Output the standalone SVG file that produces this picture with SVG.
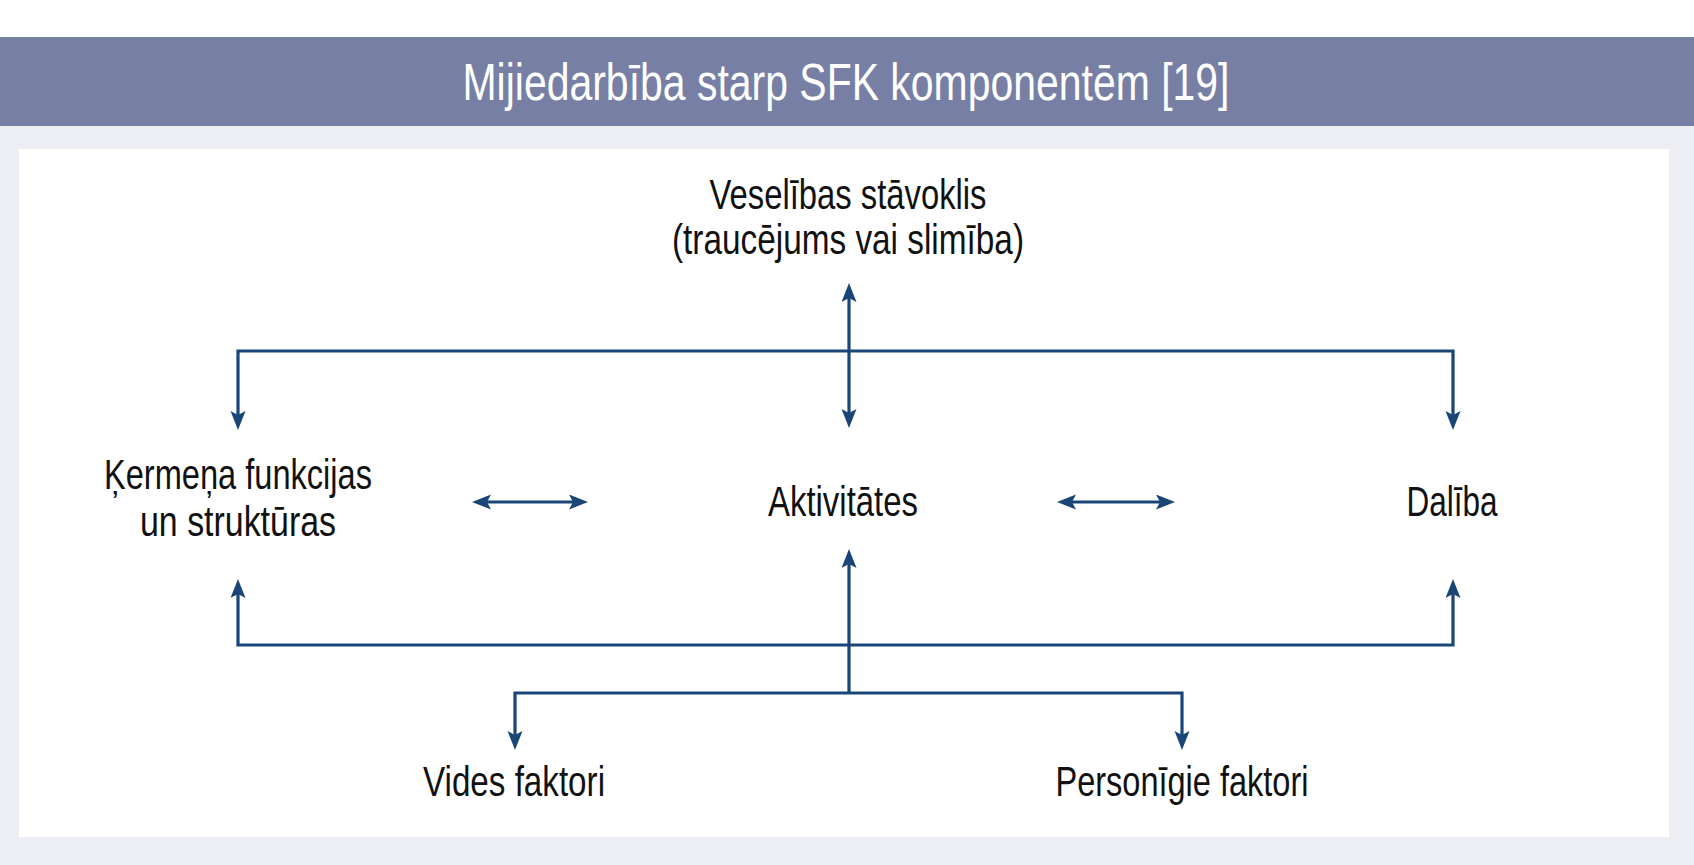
<svg xmlns="http://www.w3.org/2000/svg" width="1694" height="865" viewBox="0 0 1694 865">
  <style>
    .lbl { font-family: "Liberation Sans", Arial, sans-serif; font-size: 42px; fill: #111111; text-anchor: middle; }
    .title { font-family: "Liberation Sans", Arial, sans-serif; font-size: 52px; fill: #ffffff; text-anchor: middle; }
    .con { fill: none; stroke: #1a4577; stroke-width: 3.2; stroke-linejoin: miter; }
  </style>
  <defs>
    <marker id="ah" markerUnits="userSpaceOnUse" markerWidth="22" markerHeight="16" refX="10" refY="7.5" orient="auto-start-reverse">
      <path d="M0,0 L19,7.5 L0,15 L4,7.5 z" fill="#1a4577"/>
    </marker>
  </defs>

  <rect x="0" y="0" width="1694" height="865" fill="#ffffff"/>
  <rect x="0" y="126" width="1694" height="739" fill="#edeef4"/>
  <rect id="titlebar" x="0" y="37" width="1694" height="89" fill="#7780a4"/>
  <text class="title" x="846" y="100" textLength="767" lengthAdjust="spacingAndGlyphs">Mijiedarbība starp SFK komponentēm [19]</text>
  <rect id="panel" x="19" y="149" width="1650" height="688" fill="#ffffff"/>

  <g id="connectors">
    <path class="con" d="M238,421 V351 H1453 V421" marker-start="url(#ah)" marker-end="url(#ah)"/>
    <path class="con" d="M849,292 V419" marker-start="url(#ah)" marker-end="url(#ah)"/>
    <path class="con" d="M238,588 V645 H1453 V588" marker-start="url(#ah)" marker-end="url(#ah)"/>
    <path class="con" d="M849,693 V558" marker-end="url(#ah)"/>
    <path class="con" d="M515,741 V693 H1182 V741" marker-start="url(#ah)" marker-end="url(#ah)"/>
    <path class="con" d="M481,502 H579" marker-start="url(#ah)" marker-end="url(#ah)"/>
    <path class="con" d="M1066,502 H1166" marker-start="url(#ah)" marker-end="url(#ah)"/>
  </g>

  <g id="node-veseliba">
    <text class="lbl" x="848" y="209" textLength="277" lengthAdjust="spacingAndGlyphs">Veselības stāvoklis</text>
    <text class="lbl" x="848" y="254" textLength="352" lengthAdjust="spacingAndGlyphs">(traucējums vai slimība)</text>
  </g>
  <g id="node-kermena">
    <text class="lbl" x="238" y="489" textLength="268" lengthAdjust="spacingAndGlyphs">Ķermeņa funkcijas</text>
    <text class="lbl" x="238" y="536" textLength="196" lengthAdjust="spacingAndGlyphs">un struktūras</text>
  </g>
  <g id="node-aktivitates">
    <text class="lbl" x="843" y="516" textLength="150" lengthAdjust="spacingAndGlyphs">Aktivitātes</text>
  </g>
  <g id="node-daliba">
    <text class="lbl" x="1452" y="516" textLength="91" lengthAdjust="spacingAndGlyphs">Dalība</text>
  </g>
  <g id="node-vides">
    <text class="lbl" x="514" y="796" textLength="182" lengthAdjust="spacingAndGlyphs">Vides faktori</text>
  </g>
  <g id="node-personigie">
    <text class="lbl" x="1182" y="796" textLength="253" lengthAdjust="spacingAndGlyphs">Personīgie faktori</text>
  </g>
</svg>
